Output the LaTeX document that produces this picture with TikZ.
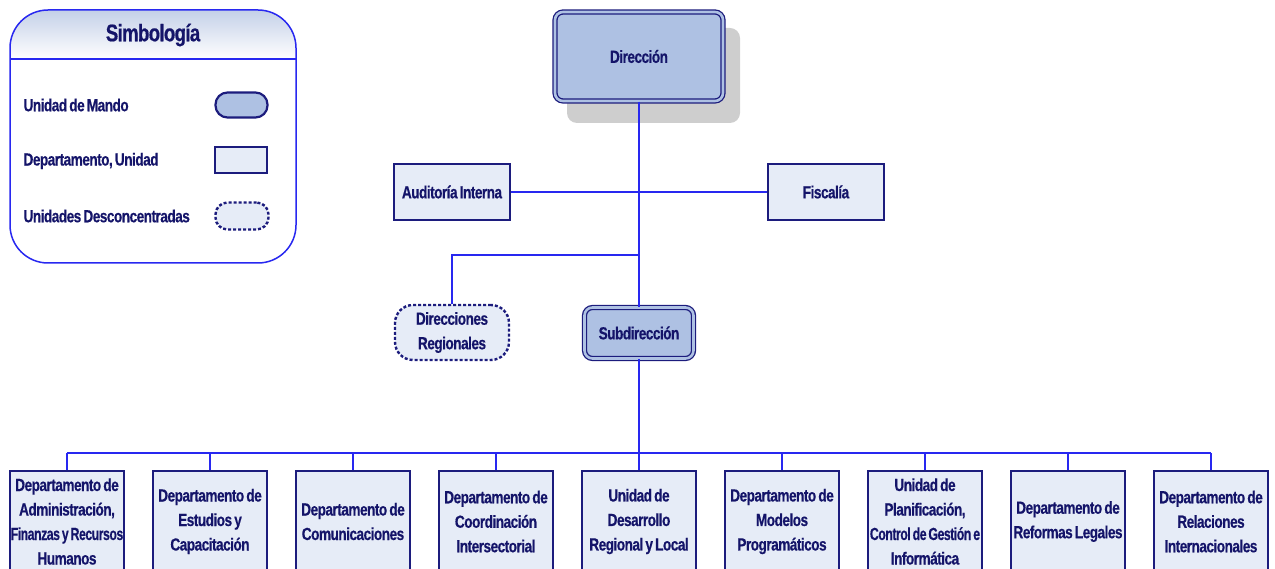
\documentclass[tikz,border=0pt]{standalone}
\usepackage{graphicx}
\usepackage{fontspec}
\setmainfont{Liberation Sans}[FakeStretch=0.78, LetterSpace=-3, WordSpace=0.65, FakeBold=0.5]
\definecolor{textc}{RGB}{20,20,105}
\definecolor{bordc}{RGB}{28,28,125}
\definecolor{linec}{RGB}{40,40,240}
\definecolor{lightfill}{RGB}{230,236,247}
\definecolor{cmdfill}{RGB}{174,193,227}
\definecolor{shadowc}{RGB}{206,206,206}
\definecolor{legtop}{RGB}{196,208,232}
\newcommand\fitline[1]{\makebox[\linewidth][c]{\scalebox{0.9}[1]{#1}}}
\begin{document}
\begin{tikzpicture}[x=1pt,y=-1pt,
  font=\fontsize{17.5}{24.5}\selectfont\bfseries,
  every node/.style={text=textc},
  cmdunit/.style={draw=bordc, line width=1.3pt, double=cmdfill, double distance=2.6pt,
    fill=cmdfill, rounded corners=8pt, inner sep=0pt, align=flush center},
  dept/.style={draw=bordc, line width=1.3pt, fill=lightfill, inner sep=0pt, align=flush center},
  desc/.style={draw=bordc, line width=2.4pt, dash pattern=on 3pt off 2pt, fill=lightfill,
    rounded corners=18pt, inner sep=0pt, align=flush center},
  bottombox/.style={dept, minimum width=114pt, minimum height=101pt, text width=114pt},
  conn/.style={draw=linec, line width=1.9pt},
  legtext/.style={anchor=west}
]
\useasboundingbox (0,0) rectangle (1275,569);

% ---- legend ----
\begin{scope}
  \clip[rounded corners=38pt] (10,10) rectangle (296,263);
  \shade[top color=legtop, bottom color=white] (10,10) rectangle (296,59);
\end{scope}
\draw[draw=linec, line width=1.5pt, rounded corners=38pt] (10,10) rectangle (296,263);
\draw[draw=linec, line width=1.5pt] (10,59) -- (296,59);
\node (ltitle) at (153,35) {\fontsize{24}{28}\selectfont Simbología};
\node[legtext] (l1) at (20,105) {Unidad de Mando};
\node[legtext] (l2) at (20,161) {Departamento, Unidad};
\node[legtext] (l3) at (20,216) {Unidades Desconcentradas};
\node[draw=bordc, line width=2.2pt, fill=cmdfill, rounded corners=12pt,
  minimum width=52pt, minimum height=25pt, inner sep=0pt] (s1) at (241.5,105) {};
\node[draw=bordc, line width=1.3pt, fill=lightfill,
  minimum width=52pt, minimum height=26pt, inner sep=0pt] (s2) at (241,160) {};
\node[draw=bordc, line width=2.4pt, dash pattern=on 3pt off 2pt, fill=lightfill,
  rounded corners=12pt, minimum width=53pt, minimum height=27pt, inner sep=0pt] (s3) at (242,216) {};

% ---- top of chart ----
\fill[shadowc, rounded corners=10pt] (567,28) rectangle (740,123);
\node[cmdunit, minimum width=168pt, minimum height=89pt] (dir) at (639,56.5) {Dirección};
\node[dept, minimum width=116pt, minimum height=56pt] (aud) at (452,192) {Auditoría Interna};
\node[dept, minimum width=116pt, minimum height=56pt] (fis) at (826,192) {Fiscalía};
\node[desc, minimum width=114pt, minimum height=55pt] (dr) at (452,332.5) {Direcciones\\Regionales};
\node[cmdunit, minimum width=109pt, minimum height=51pt] (sub) at (639,333) {Subdirección};

% ---- bottom row ----
\node[bottombox] (b1) at (67,521.5) {Departamento de\\Administración,\\\fitline{Finanzas y Recursos}\\Humanos};
\node[bottombox] (b2) at (210,521.5) {Departamento de\\Estudios y\\Capacitación};
\node[bottombox] (b3) at (353,521.5) {Departamento de\\Comunicaciones};
\node[bottombox] (b4) at (496,521.5) {Departamento de\\Coordinación\\Intersectorial};
\node[bottombox] (b5) at (639,521.5) {Unidad de\\Desarrollo\\Regional y Local};
\node[bottombox] (b6) at (782,521.5) {Departamento de\\Modelos\\Programáticos};
\node[bottombox] (b7) at (925,521.5) {Unidad de\\Planificación,\\\fitline{Control de Gestión e}\\Informática};
\node[bottombox] (b8) at (1068,521.5) {Departamento de\\Reformas Legales};
\node[bottombox] (b9) at (1211,521.5) {Departamento de\\Relaciones\\Internacionales};

% ---- connectors ----
\coordinate (jr) at (639,255);
\coordinate (bus) at (639,453);
\draw[conn] (dir.south) -- (sub.north);
\draw[conn] (aud.east) -- (fis.west);
\draw[conn] (jr) -| (dr.north);
\draw[conn] (sub.south) -- (bus);
\draw[conn] (b1.north |- bus) -- (b9.north |- bus);
\foreach \i in {1,...,9} {
  \draw[conn] (b\i.north) -- (b\i.north |- bus);
}
\end{tikzpicture}
\end{document}
